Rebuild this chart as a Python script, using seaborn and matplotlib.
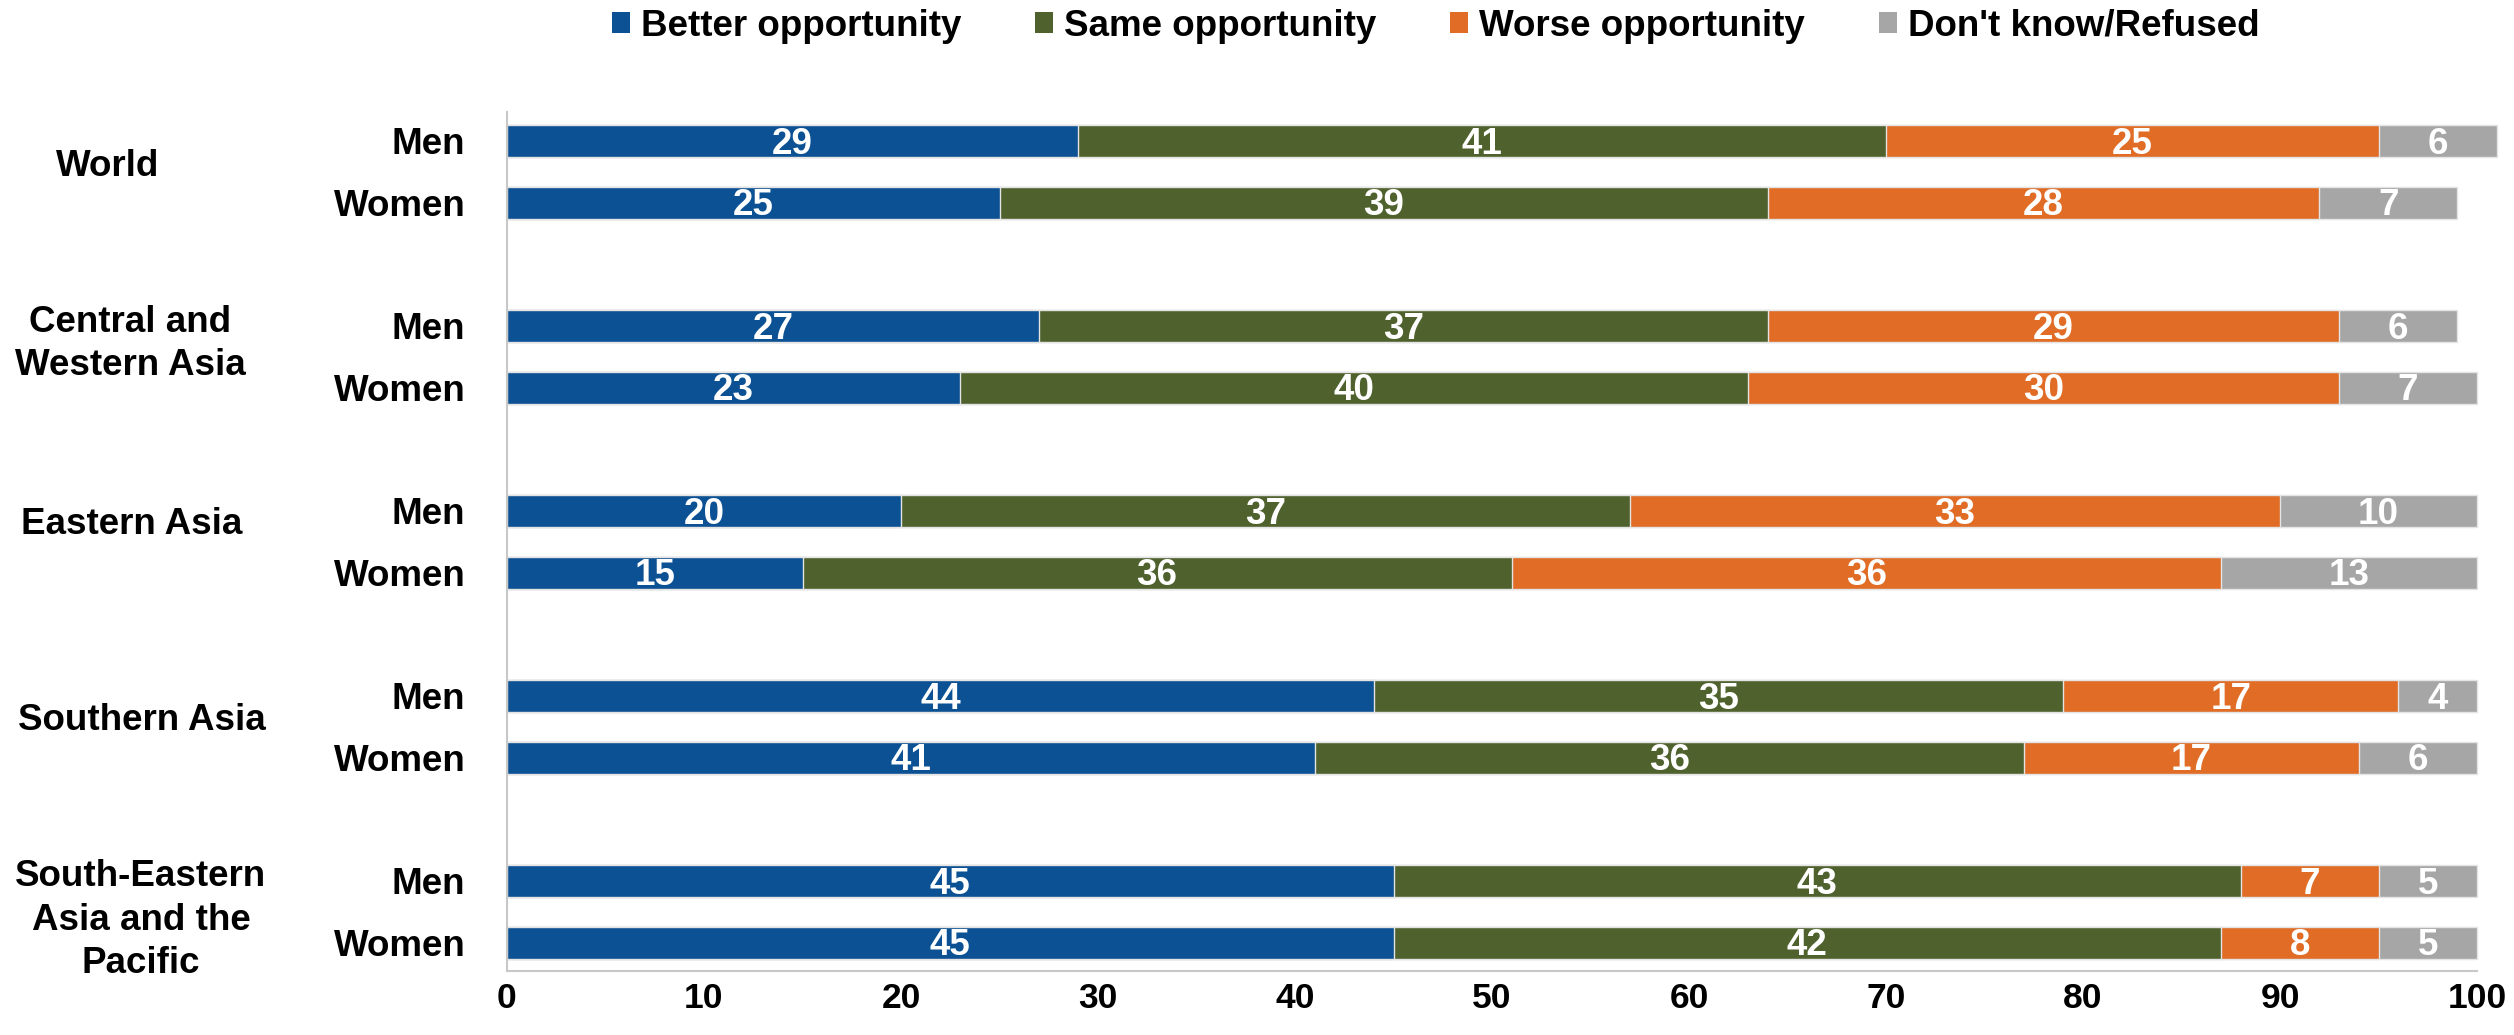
import numpy as np
import pandas as pd
import matplotlib
matplotlib.use("Agg")
import matplotlib.pyplot as plt
from matplotlib.patches import Patch
import seaborn as sns

# ---- data -------------------------------------------------------------
regions = ["World", "Central and\nWestern Asia", "Eastern Asia",
           "Southern Asia", "South-Eastern\nAsia and the\nPacific"]
sexes = ["Men", "Women"]
series = ["Better opportunity", "Same opportunity", "Worse opportunity",
          "Don't know/Refused"]

better = [29, 25, 27, 23, 20, 15, 44, 41, 45, 45]
same = [41, 39, 37, 40, 37, 36, 35, 36, 43, 42]
worse = [25, 28, 29, 30, 33, 36, 17, 17, 7, 8]
dont_know = [6, 7, 6, 7, 10, 13, 4, 6, 5, 5]

x_ticks = [0, 10, 20, 30, 40, 50, 60, 70, 80, 90, 100]

colors = ["#0B5193", "#4F612C", "#E06C26", "#A6A6A6"]

# ---- layout -----------------------------------------------------------
W, H = 2514, 1035
sns.set_theme(style="white")
plt.rcParams["font.family"] = ["Liberation Sans", "DejaVu Sans"]
plt.rcParams["font.weight"] = "bold"
plt.rcParams["text.color"] = "black"
FS = 26.5

fig = plt.figure(figsize=(W / 100, H / 100), dpi=100)
ax = fig.add_axes([507 / W, 1 - 971 / H, (2477 - 507) / W, (971 - 112) / H])

# each region occupies three slots: Men, Women, blank gap
pos = []
for g in range(len(regions)):
    pos += [3 * g, 3 * g + 1]
pos = np.array(pos, dtype=float)

vals = np.array([better, same, worse, dont_know], dtype=float)
cums = np.cumsum(vals, axis=0)

# stacked bars: draw the widest cumulative total first, then overlay
for k in range(len(series) - 1, -1, -1):
    df = pd.DataFrame({"pos": pos, "value": cums[k]})
    sns.barplot(data=df, x="value", y="pos", orient="h", native_scale=True,
                color=colors[k], saturation=1, width=0.52, errorbar=None,
                edgecolor="#E4E4E4", linewidth=1.0, ax=ax)

for p in ax.patches:
    p.set_clip_on(False)

# value labels in the middle of each segment (nudged to optical centre)
for k in range(len(series)):
    starts = cums[k] - vals[k]
    for y, s, v in zip(pos, starts, vals[k]):
        ax.text(s + v / 2, y + 0.05, f"{int(v)}", ha="center", va="center",
                color="white", fontsize=FS, fontweight="bold")

ax.set_xlim(0, 100)
ax.set_ylim(13.46, -0.47)
ax.set_xticks(x_ticks)
ax.set_xticklabels([str(t) for t in x_ticks], fontsize=25.5, fontweight="bold")
ax.set_yticks(pos)
ax.set_yticklabels(sexes * len(regions), fontsize=FS, fontweight="bold")
ax.tick_params(axis="x", length=0, pad=8, colors="black")
ax.tick_params(axis="y", length=0, pad=30, colors="black")
ax.set_xlabel("")
ax.set_ylabel("")

for side in ["top", "right"]:
    ax.spines[side].set_visible(False)
for side in ["left", "bottom"]:
    ax.spines[side].set_visible(True)
    ax.spines[side].set_color("#C8C8C8")
    ax.spines[side].set_linewidth(1.5)

# region names to the left of the Men/Women labels
group_xy = [(108, 166), (130, 344), (132, 524), (142, 721), (141, 920)]
for name, (gx, gy) in zip(regions, group_xy):
    fig.text(gx / W, 1 - gy / H, name, ha="center", va="center",
             fontsize=FS, fontweight="bold", linespacing=1.33,
             multialignment="center", color="black")

# legend across the top
handles = [Patch(facecolor=c, edgecolor="none") for c in colors]
fig.legend(handles, series, loc="center", bbox_to_anchor=(0.571, 1 - 26 / H),
           ncol=4, frameon=False, handlelength=0.49,
           handleheight=0.49, handletextpad=0.3, columnspacing=2.0,
           prop={"weight": "bold", "size": FS})

fig.savefig("out.png", dpi=100)
